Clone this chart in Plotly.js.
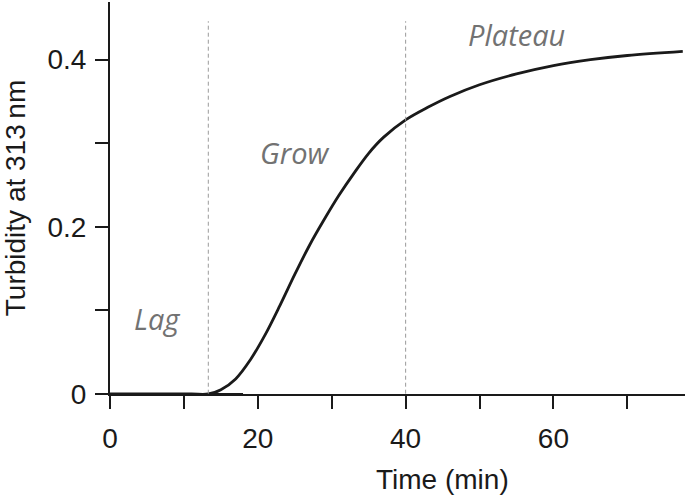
<!DOCTYPE html>
<html>
<head>
<meta charset="utf-8">
<script src="https://cdn.plot.ly/plotly-3.0.1.min.js"></script>
<style>
  html, body { margin: 0; padding: 0; background: #fff; }
  #chart { width: 688px; height: 497px; }
</style>
</head>
<body>
<div id="chart"></div>
<script>
// turbidity curve (time in min, turbidity at 313 nm)
const timeMin = [0, 6, 11, 13.3, 15, 17, 19, 21, 23, 25, 27, 29, 31, 33, 35, 37, 40, 43, 46, 50, 55, 60, 65, 70, 77.5];
const turbidity = [0, 0, 0, 0, 0.005, 0.018, 0.041, 0.071, 0.106, 0.143, 0.178, 0.209, 0.238, 0.264, 0.288, 0.307, 0.328, 0.343, 0.356, 0.37, 0.383, 0.393, 0.4, 0.405, 0.41];

// short flat stub left along the baseline after the lag
const stubX = [13.3, 18];
const stubY = [0, 0];

// phase boundaries and labels
const phaseBounds = [13.3, 40];
const phaseNames = ['Lag', 'Grow', 'Plateau'];
const phaseLabelX = [6.4, 24.9, 55];
const phaseLabelY = [0.09, 0.289, 0.43];

const xTicks = [0, 10, 20, 30, 40, 50, 60, 70];
const xTickText = ['0', '', '20', '', '40', '', '60', ''];
const yTicks = [0, 0.1, 0.2, 0.3, 0.4];
const yTickText = ['0', '', '0.2', '', '0.4'];

const ink = '#1a1a1a';
const labelFont = { family: 'Liberation Sans, Arial, sans-serif', size: 28, color: ink };

const traces = [
    {
        x: stubX, y: stubY, type: 'scatter', mode: 'lines',
        line: { color: ink, width: 2 }, hoverinfo: 'skip'
    },
    {
        x: timeMin, y: turbidity, type: 'scatter', mode: 'lines',
        line: { color: ink, width: 2.8, shape: 'spline', smoothing: 1 }
    }
];

const shapes = phaseBounds.map(b => ({
    type: 'line', xref: 'x', yref: 'y',
    x0: b, x1: b, y0: -0.008, y1: 0.446,
    line: { color: '#9a9a9a', width: 1, dash: '4px,3px' }
}));

const annotations = phaseNames.map((name, i) => ({
    x: phaseLabelX[i], y: phaseLabelY[i], xref: 'x', yref: 'y',
    text: '<i>' + name + '</i>', showarrow: false,
    font: { family: 'Open Sans, sans-serif', size: 29, color: '#727272' }
}));

// x title sits right of the plot centre in the original, so place it by hand
annotations.push({
    x: 0.579, y: -0.218, xref: 'paper', yref: 'paper',
    xanchor: 'center', yanchor: 'middle',
    text: 'Time (min)', showarrow: false, font: labelFont
});

const layout = {
    width: 688, height: 497,
    margin: { l: 110, r: 3, t: 2, b: 103 },
    paper_bgcolor: '#fff', plot_bgcolor: '#fff',
    showlegend: false,
    font: labelFont,
    shapes: shapes,
    annotations: annotations,
    xaxis: {
        range: [0, 77.8],
        tickvals: xTicks, ticktext: xTickText,
        ticks: 'outside', ticklen: 13, tickwidth: 2, tickcolor: ink,
        showline: true, linecolor: ink, linewidth: 2,
        showgrid: false, zeroline: false,
        tickfont: labelFont, ticklabelstandoff: 5
    },
    yaxis: {
        range: [0, 0.469],
        tickvals: yTicks, ticktext: yTickText,
        ticks: 'outside', ticklen: 13, tickwidth: 2, tickcolor: ink,
        showline: true, linecolor: ink, linewidth: 2,
        showgrid: false, zeroline: false,
        tickfont: labelFont, ticklabelstandoff: 3,
        title: { text: 'Turbidity at 313\u2009nm', font: labelFont, standoff: 16 }
    }
};

Plotly.newPlot('chart', traces, layout, { staticPlot: true, displayModeBar: false });
</script>
</body>
</html>
